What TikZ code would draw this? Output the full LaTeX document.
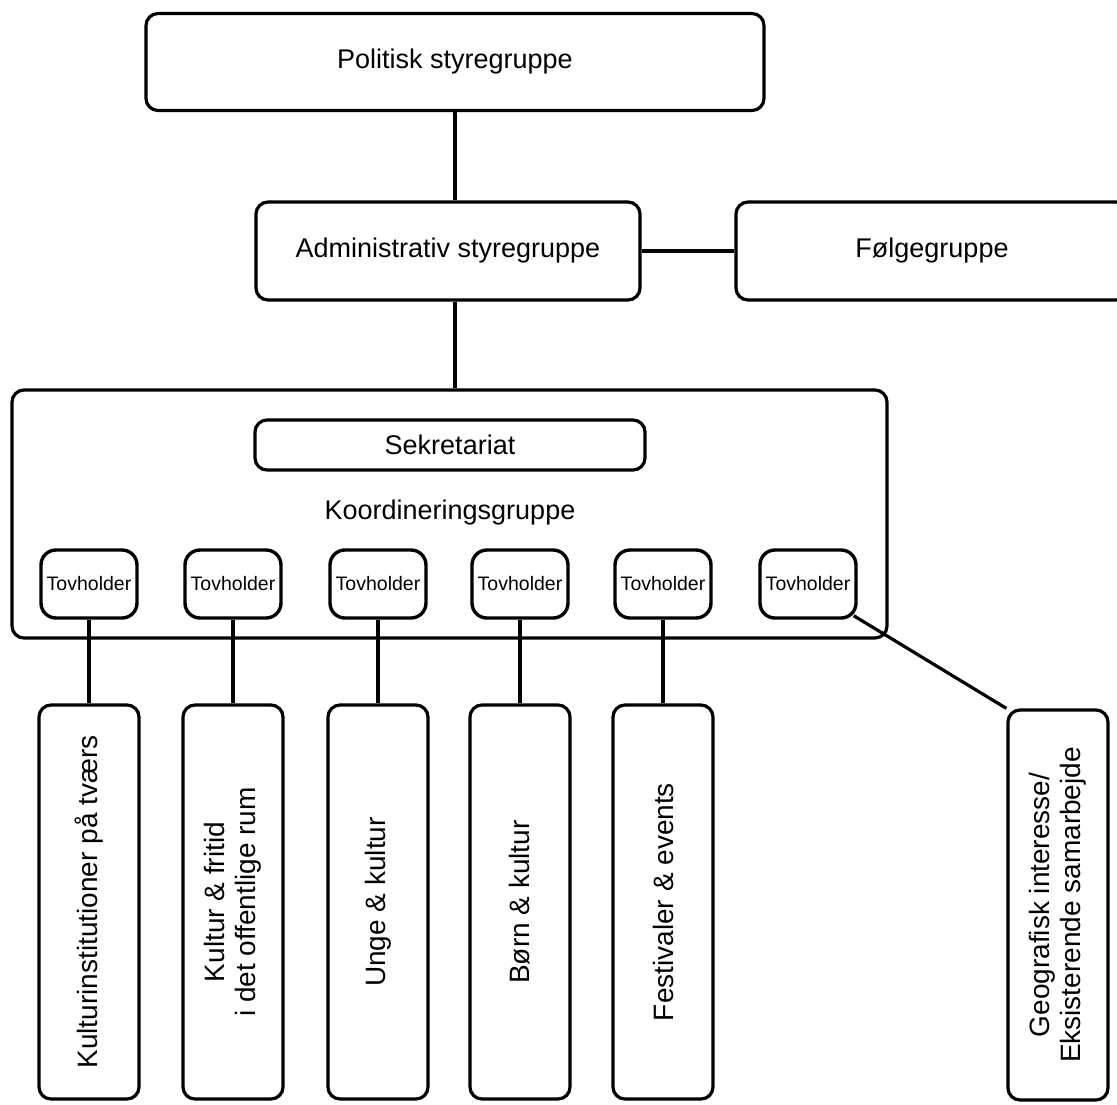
\documentclass[tikz,border=0pt]{standalone}
\usepackage{fontspec}
\setmainfont{Liberation Sans}
\begin{document}
\begin{tikzpicture}[x=1pt,y=-1pt,
  box/.style={draw=black,line width=3.2pt,rounded corners=12pt,inner sep=0pt,
    font=\fontsize{27}{31}\selectfont,align=center},
  tovbox/.style={draw=black,line width=3.4pt,rounded corners=15pt,inner sep=0pt,
    minimum width=96pt,minimum height=68pt,font=\fontsize{19.5}{21}\selectfont},
  vbox/.style={draw=black,line width=3.2pt,rounded corners=12pt,inner sep=0pt,
    minimum width=100pt,minimum height=394pt},
  vtext/.style={rotate=90,font=\fontsize{28}{31}\selectfont,align=center,inner sep=0pt},
  conn/.style={line width=3.2pt}]
\useasboundingbox (0,0) rectangle (1117,1104);
% top boxes
\node[box,minimum width=618pt,minimum height=97pt] (pol) at (455,62) {Politisk styregruppe};
\node[box,minimum width=384pt,minimum height=98pt] (adm) at (448,251) {Administrativ styregruppe};
\node[box,minimum width=392pt,minimum height=98pt] (fol) at (932,251) {Følgegruppe};
% coordination group
\node[box,minimum width=875pt,minimum height=248pt] (big) at (449.5,514) {};
\node[box,minimum width=390pt,minimum height=50pt] (sek) at (450,445) {Sekretariat};
\node[font=\fontsize{27}{31}\selectfont,inner sep=0pt] (koord) at (450,513) {Koordineringsgruppe};
\node[tovbox] (t1) at (89,584) {Tovholder};
\node[tovbox] (t2) at (233,584) {Tovholder};
\node[tovbox] (t3) at (378,584) {Tovholder};
\node[tovbox] (t4) at (520,584) {Tovholder};
\node[tovbox] (t5) at (663,584) {Tovholder};
\node[tovbox] (t6) at (808,584) {Tovholder};
% bottom boxes
\node[vbox] (b1) at (89,902) {};
\node[vtext] at (b1) {Kulturinstitutioner på tværs};
\node[vbox] (b2) at (233,902) {};
\node[vtext] at (b2) {Kultur \& fritid\\i det offentlige rum};
\node[vbox] (b3) at (378,902) {};
\node[vtext] at (b3) {Unge \& kultur};
\node[vbox] (b4) at (520,902) {};
\node[vtext] at (b4) {Børn \& kultur};
\node[vbox] (b5) at (663,902) {};
\node[vtext] at (b5) {Festivaler \& events};
\node[vbox,minimum height=390pt] (b6) at (1058,905) {};
\node[vtext] at (b6) {Geografisk interesse/\\Eksisterende samarbejde};
% connectors
\draw[conn] (pol.south) -- (pol.south |- adm.north);
\draw[conn] (adm.east) -- (fol.west);
\draw[conn] (pol.south |- adm.south) -- (pol.south |- big.north);
\foreach \i in {1,...,5}{
  \draw[conn] (t\i.south) -- (b\i.north);
}
\draw[conn] ([shift={(-4pt,4pt)}]t6.south east) -- (b6.north west);
\end{tikzpicture}
\end{document}
